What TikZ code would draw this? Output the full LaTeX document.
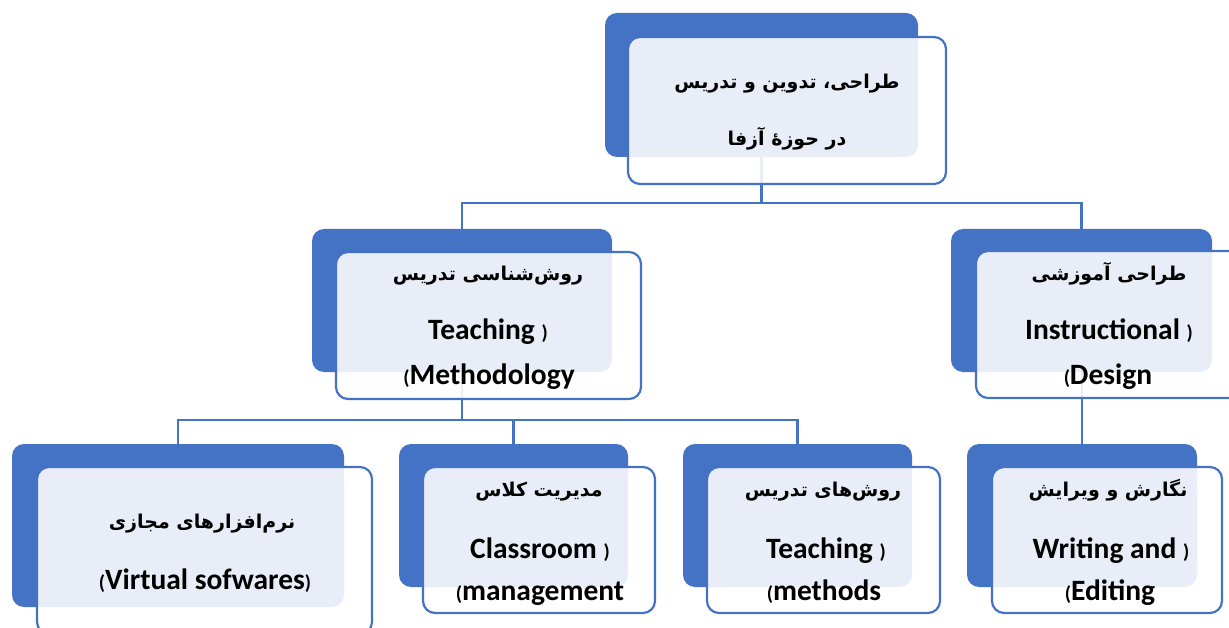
\documentclass[tikz,border=0pt]{standalone}
\usepackage{fontspec}
\setmainfont{Carlito}
\newfontfamily\fa[Script=Arabic]{DejaVu Sans}
\TeXXeTstate=1
\usetikzlibrary{fit}
\pgfdeclarelayer{bg}
\pgfsetlayers{bg,main}
\definecolor{accent}{HTML}{4472C4}
\newcommand{\fatext}[1]{{\fa\bfseries\fontsize{19}{22}\selectfont\beginR #1\endR}}
\newcommand{\lp}{{\fontsize{20}{20}\selectfont(}}
\newcommand{\rp}{{\fontsize{20}{20}\selectfont)}}
\tikzset{
  backbox/.style={rectangle, rounded corners=12pt, fill=accent, inner sep=0pt},
  frontbox/.style={rectangle, rounded corners=12pt, draw=accent, line width=2.2pt,
    fill=white, fill opacity=0.88, inner sep=0pt},
  conn/.style={draw=accent, line width=2.4pt},
  fatxt/.style={anchor=base, inner sep=0pt},
  entxt/.style={anchor=base, inner sep=0pt, font=\bfseries\fontsize{29.5}{34}\selectfont},
}
\begin{document}
\begin{tikzpicture}[x=1pt,y=-1pt]
\useasboundingbox (0,0) rectangle (1229,628);

% two-layer boxes: solid back card and translucent framed front card
\node[backbox, fit={(605,13) (918,157)}] (topB) {};
\node[frontbox, fit={(628,37) (946,184)}] (topF) {};

\node[backbox, fit={(312,229) (612,372)}] (methB) {};
\node[frontbox, fit={(336,252) (641,399)}] (methF) {};

\node[backbox, fit={(951,229) (1212,372)}] (desB) {};
\node[frontbox, fit={(976,251) (1243,398)}] (desF) {};

\node[backbox, fit={(12,444) (344,607)}] (virtB) {};
\node[frontbox, fit={(37,467) (372,634)}] (virtF) {};

\node[backbox, fit={(399,444) (628,587)}] (classB) {};
\node[frontbox, fit={(423,467) (655,613)}] (classF) {};

\node[backbox, fit={(683,444) (912,587)}] (tmB) {};
\node[frontbox, fit={(707,467) (940,613)}] (tmF) {};

\node[backbox, fit={(967,444) (1197,587)}] (writeB) {};
\node[frontbox, fit={(992,467) (1222,613)}] (writeF) {};

% tree connectors, behind the cards
\begin{pgfonlayer}{bg}
  \draw[conn] (topB.south) -- ++(0,46) -| (methB.north);
  \draw[conn] (topB.south) -- ++(0,46) -| (desB.north);
  \draw[conn] (methB.south) -- ++(0,48) -| (virtB.north);
  \draw[conn] (methB.south) -- ++(0,48) -| (classB.north);
  \draw[conn] (methB.south) -- ++(0,48) -| (tmB.north);
  \draw[conn] (desB.south) -- (desB.south -| writeB.north) -- (writeB.north);
\end{pgfonlayer}

% labels
\node[fatxt] (topT1) at (787,89) {\fatext{طراحی، تدوین و تدریس}};
\node[fatxt] (topT2) at (787,146) {\fatext{در حوزهٔ آزفا}};

\node[fatxt] (methT1) at (488,281) {\fatext{روش‌شناسی تدریس}};
\node[entxt] (methT2) at (488,339) {Teaching \rp};
\node[entxt] (methT3) at (489,384) {\lp Methodology};

\node[fatxt] (desT1) at (1109,281) {\fatext{طراحی آموزشی}};
\node[entxt] (desT2) at (1109,339) {Instructional \rp};
\node[entxt] (desT3) at (1108,384) {\lp Design};

\node[fatxt] (virtT1) at (202,528) {\fatext{نرم‌افزارهای مجازی}};
\node[entxt] (virtT2) at (205,589) {\lp Virtual sofwares\rp};

\node[fatxt] (classT1) at (539,496) {\fatext{مدیریت کلاس}};
\node[entxt] (classT2) at (540,558) {Classroom \rp};
\node[entxt] (classT3) at (540,600) {\lp management};

\node[fatxt] (tmT1) at (823,496) {\fatext{روش‌های تدریس}};
\node[entxt] (tmT2) at (826,558) {Teaching \rp};
\node[entxt] (tmT3) at (824,600) {\lp methods};

\node[fatxt] (writeT1) at (1108,496) {\fatext{نگارش و ویرایش}};
\node[entxt] (writeT2) at (1111,558) {Writing and \rp};
\node[entxt] (writeT3) at (1110,600) {\lp Editing};
\end{tikzpicture}
\end{document}
